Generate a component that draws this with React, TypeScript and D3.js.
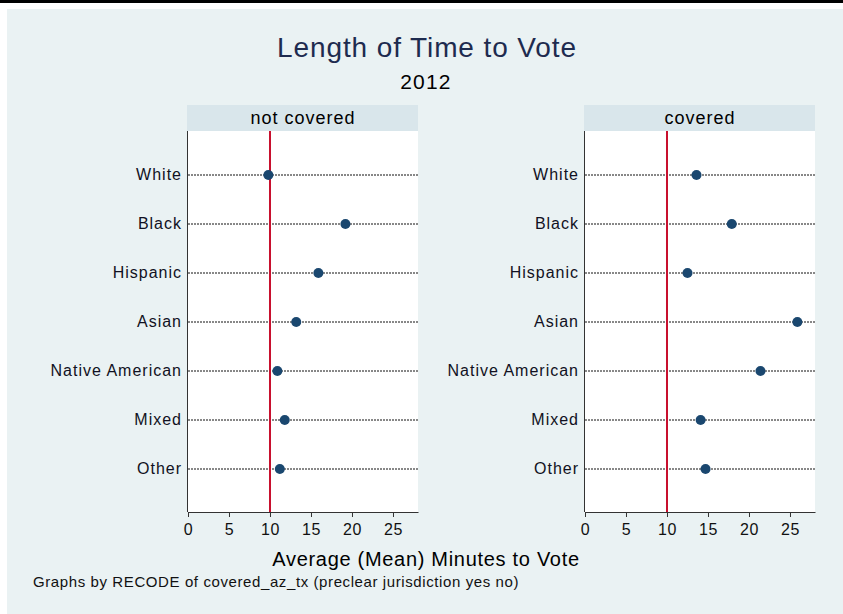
import React, { useEffect, useRef } from 'react';
import * as d3 from 'd3';

const groups = ['White', 'Black', 'Hispanic', 'Asian', 'Native American', 'Mixed', 'Other'];
const panels = ['not covered', 'covered'];
const notCoveredValues = [9.8, 19.2, 15.9, 13.2, 10.9, 11.8, 11.2];
const coveredValues = [13.6, 17.9, 12.5, 25.9, 21.4, 14.1, 14.7];
const xTicks = [0, 5, 10, 15, 20, 25];
const referenceLine = 10;

const App: React.FC = () => {
    const svgRef = useRef<SVGSVGElement>(null);

    useEffect(() => {
        if (!svgRef.current) return;

        const width = 843;
        const height = 614;
        const font = "Arial, 'Liberation Sans', sans-serif";

        d3.select(svgRef.current).selectAll("*").remove();

        const svg = d3.select(svgRef.current)
            .attr("width", width)
            .attr("height", height);

        // page + graph region
        svg.append("rect").attr("width", width).attr("height", height).style("fill", "#ffffff");
        svg.append("rect").attr("width", width).attr("height", 3).style("fill", "#000000");
        svg.append("rect")
            .attr("x", 7).attr("y", 9)
            .attr("width", width - 7).attr("height", height - 9)
            .style("fill", "#eaf2f3");

        svg.append("text")
            .attr("x", 427).attr("y", 57)
            .attr("text-anchor", "middle")
            .style("font-family", font).style("font-size", "28px")
            .style("letter-spacing", "0.9px")
            .style("fill", "#1e2b4f")
            .text("Length of Time to Vote");

        svg.append("text")
            .attr("x", 426).attr("y", 89)
            .attr("text-anchor", "middle")
            .style("font-family", font).style("font-size", "21px")
            .style("letter-spacing", "1.2px")
            .style("fill", "#000000")
            .text("2012");

        const seriesValues = [notCoveredValues, coveredValues];
        const panelLeft = [188, 585];
        const plotWidth = 230;
        const plotTop = 131;
        const plotBottom = 512;

        const y = d3.scalePoint<string>()
            .domain(groups)
            .range([175, 469]);

        panels.forEach((name, pi) => {
            const left = panelLeft[pi];
            const x = d3.scaleLinear()
                .domain([0, 28.05])
                .range([left, left + plotWidth]);

            const g = svg.append("g");

            // strip
            g.append("rect")
                .attr("x", left - 1).attr("y", 105)
                .attr("width", plotWidth + 1).attr("height", 26)
                .style("fill", "#d9e6eb");
            g.append("text")
                .attr("x", left + plotWidth / 2).attr("y", 124)
                .attr("text-anchor", "middle")
                .style("font-family", font).style("font-size", "18px")
                .style("letter-spacing", "1px")
                .style("fill", "#000000")
                .text(name);

            // plot region
            g.append("rect")
                .attr("x", left - 1).attr("y", plotTop)
                .attr("width", plotWidth + 1).attr("height", plotBottom - plotTop)
                .style("fill", "#ffffff");

            // dotted row lines
            g.selectAll(".row")
                .data(groups)
                .enter()
                .append("line")
                .attr("class", "row")
                .attr("x1", left).attr("x2", left + plotWidth)
                .attr("y1", d => y(d)!).attr("y2", d => y(d)!)
                .style("stroke", "#111111")
                .style("stroke-width", 1)
                .style("stroke-dasharray", "2,1");

            // category labels
            g.selectAll(".cat")
                .data(groups)
                .enter()
                .append("text")
                .attr("class", "cat")
                .attr("x", left - 6)
                .attr("y", d => y(d)! + 5)
                .attr("text-anchor", "end")
                .style("font-family", font).style("font-size", "16px")
                .style("letter-spacing", "1px")
                .style("fill", "#111122")
                .text(d => d);

            // reference line
            g.append("line")
                .attr("x1", x(referenceLine)).attr("x2", x(referenceLine))
                .attr("y1", plotTop).attr("y2", plotBottom)
                .style("stroke", "#c8102e")
                .style("stroke-width", 2);

            // axes
            g.append("line")
                .attr("x1", left - 0.5).attr("x2", left - 0.5)
                .attr("y1", plotTop).attr("y2", plotBottom)
                .style("stroke", "#333333").style("stroke-width", 1);

            const axis = g.append("g")
                .attr("transform", `translate(0,${plotBottom})`)
                .call(d3.axisBottom(x).tickValues(xTicks).tickSize(5).tickSizeOuter(0).tickFormat(d3.format("d")));
            axis.select(".domain").style("stroke", "#333333");
            axis.selectAll(".tick line").style("stroke", "#333333");
            axis.selectAll("text")
                .attr("dy", "0.95em")
                .style("font-family", font).style("font-size", "16px")
                .style("letter-spacing", "0.5px")
                .style("fill", "#111111");

            // dots
            g.selectAll(".dot")
                .data(groups)
                .enter()
                .append("circle")
                .attr("class", "dot")
                .attr("cx", (d, i) => x(seriesValues[pi][i]))
                .attr("cy", d => y(d)!)
                .attr("r", 5)
                .style("fill", "#1a476f");
        });

        svg.append("text")
            .attr("x", 426).attr("y", 566)
            .attr("text-anchor", "middle")
            .style("font-family", font).style("font-size", "20px")
            .style("letter-spacing", "0.7px")
            .style("fill", "#000000")
            .text("Average (Mean) Minutes to Vote");

        svg.append("text")
            .attr("x", 33).attr("y", 587)
            .style("font-family", font).style("font-size", "15px")
            .style("letter-spacing", "0.6px")
            .style("fill", "#111111")
            .text("Graphs by RECODE of covered_az_tx (preclear jurisdiction yes no)");
    }, []);

    return (
        <svg ref={svgRef} style={{ position: 'absolute', left: 0, top: 0, display: 'block' }}></svg>
    );
};

export default App;
